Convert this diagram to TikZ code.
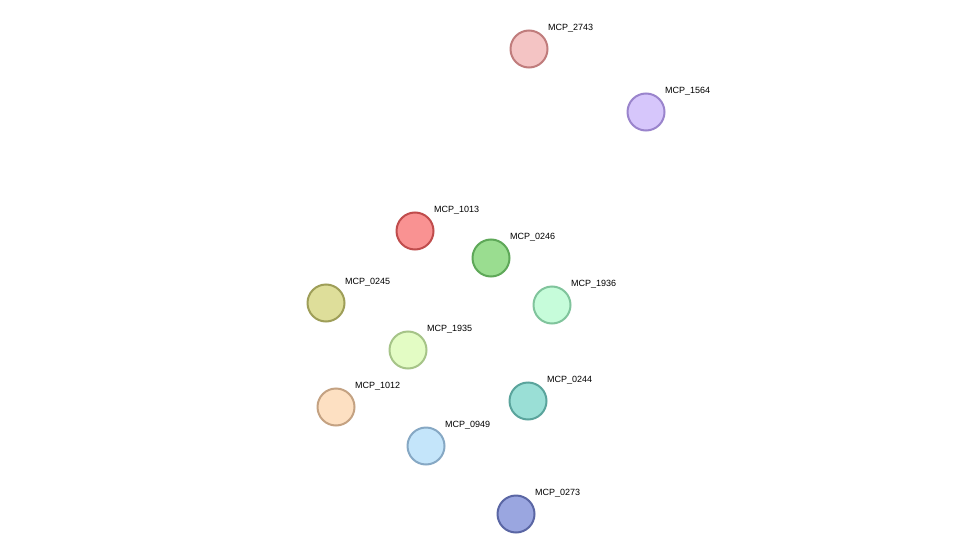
\documentclass[tikz,border=0pt]{standalone}
\usepackage{fontspec}
\setmainfont{Liberation Sans}
\usetikzlibrary{calc,backgrounds}
\definecolor{G}{HTML}{3DC93D}
\definecolor{Y}{HTML}{C8CC2A}
\definecolor{K}{HTML}{333333}
\definecolor{B}{HTML}{3344EE}
\definecolor{M}{HTML}{CC44CC}
\definecolor{C}{HTML}{33B4E0}
\definecolor{R}{HTML}{E83A3A}
\tikzset{
  prot/.style={circle,minimum size=37pt,inner sep=0pt,line width=2pt},
  lab/.style={anchor=west,font=\fontsize{9}{10}\selectfont,inner sep=1pt},
  ln/.style={line width=0.9pt}
}
\newcommand\Lnk[4]{%
  \foreach[count=\i] \c in {#4}{%
    \pgfmathsetmacro\o{(\i-(#3+1)/2)*1.45}%
    \draw[ln,draw=\c] ($(#1.center)!\o pt!90:(#2.center)$) -- ($(#2.center)!\o pt!-90:(#1.center)$);
  }}
\newcommand\Prot[5]{%
  \definecolor{fill#1}{HTML}{#4}%
  \definecolor{line#1}{HTML}{#5}%
  \node[prot,fill=fill#1,draw=line#1] (#1) at (#2,#3) {};
  \node[lab] at (#2+18,#3-21) {MCP\_#1};}
\begin{document}
\begin{tikzpicture}[x=1pt,y=-1pt]
\useasboundingbox[fill=white] (0,0) rectangle (976,559);
\Prot{2743}{529}{49}{F4C4C4}{C07C7C}
\Prot{1564}{646}{112}{D6C6FB}{9A84CC}
\Prot{1013}{415}{231}{F99292}{C04C4C}
\Prot{0246}{491}{258}{9ADD90}{5EA858}
\Prot{0245}{326}{303}{DEDE9A}{9E9E58}
\Prot{1936}{552}{305}{C6FCDA}{80C49C}
\Prot{1935}{408}{350}{E3FCC4}{A6C488}
\Prot{1012}{336}{407}{FDE0C2}{C4A282}
\Prot{0244}{528}{401}{9ADFD6}{5AA49C}
\Prot{0949}{426}{446}{C4E5FA}{86A8C4}
\Prot{0273}{516}{514}{9AA6E0}{5A66A4}
\begin{scope}[on background layer]
\Lnk{2743}{1564}{4}{G,K,C,Y}
\Lnk{2743}{1013}{3}{G,M,C}
\Lnk{2743}{0246}{4}{G,M,C,Y}
\Lnk{2743}{1936}{4}{G,M,C,Y}
\Lnk{1564}{1013}{2}{G,Y}
\Lnk{1564}{0246}{3}{G,C,Y}
\Lnk{1564}{1936}{3}{G,C,Y}
\Lnk{1013}{0246}{7}{G,R,B,M,C,K,Y}
\Lnk{1013}{0245}{5}{G,B,M,K,Y}
\Lnk{1013}{1936}{5}{G,B,M,K,Y}
\Lnk{1013}{1935}{5}{G,B,M,K,Y}
\Lnk{1013}{1012}{5}{G,B,M,K,Y}
\Lnk{1013}{0244}{3}{G,K,Y}
\Lnk{1013}{0949}{3}{G,K,Y}
\Lnk{1013}{0273}{3}{G,K,Y}
\Lnk{0246}{0245}{6}{G,R,B,M,K,Y}
\Lnk{0246}{1936}{5}{G,B,M,K,Y}
\Lnk{0246}{1935}{6}{G,R,B,M,K,Y}
\Lnk{0246}{1012}{5}{G,B,M,K,Y}
\Lnk{0246}{0244}{3}{G,K,Y}
\Lnk{0246}{0949}{3}{G,K,Y}
\Lnk{0246}{0273}{3}{G,K,Y}
\Lnk{0245}{1936}{5}{G,B,C,M,Y}
\Lnk{0245}{1935}{5}{G,B,M,K,Y}
\Lnk{0245}{1012}{4}{G,B,C,Y}
\Lnk{0245}{0244}{3}{G,K,Y}
\Lnk{0245}{0949}{2}{G,Y}
\Lnk{0245}{0273}{2}{G,Y}
\Lnk{1936}{1935}{5}{G,B,M,K,Y}
\Lnk{1936}{1012}{3}{G,M,Y}
\Lnk{1936}{0244}{3}{G,K,Y}
\Lnk{1936}{0949}{3}{G,K,Y}
\Lnk{1936}{0273}{3}{G,K,Y}
\Lnk{1935}{1012}{5}{G,B,M,K,Y}
\Lnk{1935}{0244}{4}{G,B,K,Y}
\Lnk{1935}{0949}{3}{G,K,Y}
\Lnk{1935}{0273}{3}{G,K,Y}
\Lnk{1012}{0244}{4}{G,B,K,Y}
\Lnk{1012}{0949}{3}{G,K,Y}
\Lnk{1012}{0273}{2}{G,Y}
\Lnk{0244}{0949}{4}{G,B,K,Y}
\Lnk{0244}{0273}{4}{G,M,K,Y}
\Lnk{0949}{0273}{3}{G,K,Y}
\end{scope}
\end{tikzpicture}
\end{document}
